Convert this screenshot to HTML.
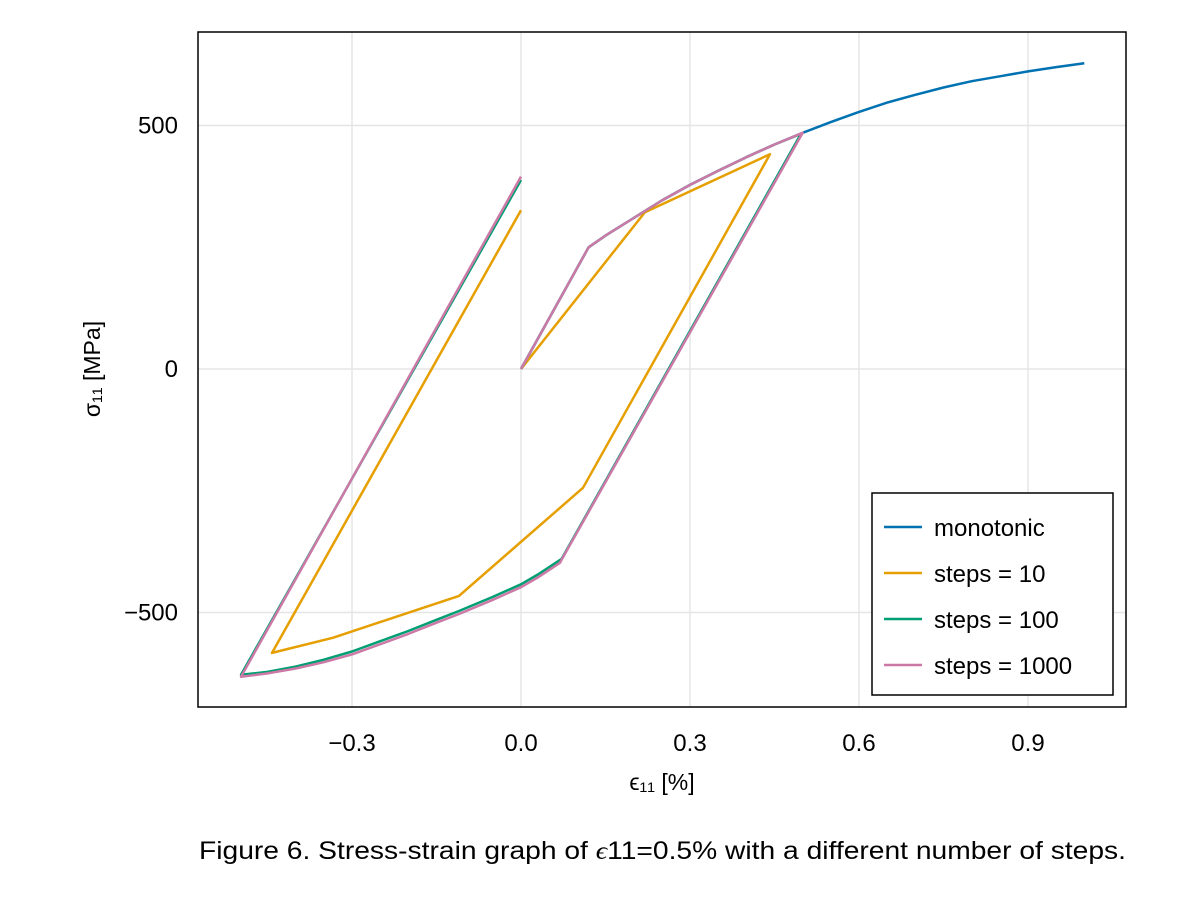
<!DOCTYPE html>
<html><head><meta charset="utf-8"><style>
body{margin:0;background:#fff;width:1200px;height:900px;overflow:hidden;font-family:"Liberation Sans","DejaVu Sans",sans-serif}
</style></head><body>
<svg width="1200" height="900" xmlns="http://www.w3.org/2000/svg">
<g id="grid"></g>
<g id="series"></g>
<rect x="198" y="32" width="928" height="675" fill="none" stroke="#000" stroke-width="1.5"/>
<g id="ticks" font-size="24" fill="#000"></g>
<text x="662" y="790" font-size="23" text-anchor="middle">ϵ₁₁ [%]</text>
<text transform="translate(100,369) rotate(-90)" font-size="23" text-anchor="middle">σ₁₁ [MPa]</text>
<g>
<rect x="872" y="493" width="241" height="202" fill="#fff" stroke="#000" stroke-width="1.5"/>
<g id="legend" font-size="24"></g>
</g>
<text x="199" y="859" font-size="25" textLength="927" lengthAdjust="spacingAndGlyphs">Figure 6. Stress-strain graph of <tspan font-family="Liberation Serif, serif" font-style="italic">ϵ</tspan>11=0.5% with a different number of steps.</text>
</svg>
<script>
const xTicks=[-0.3,0,0.3,0.6,0.9];
const xTickLabels=["−0.3","0.0","0.3","0.6","0.9"];
const yTicks=[-500,0,500];
const yTickLabels=["−500","0","500"];
const seriesNames=["monotonic","steps = 10","steps = 100","steps = 1000"];
const seriesColors=["#0072b2","#e69f00","#009e73","#cc79a7"];
const monoX=[0,0.12,0.15,0.2,0.25,0.3,0.35,0.4,0.45,0.5,0.55,0.6,0.65,0.7,0.75,0.8,0.85,0.9,0.95,1.0];
const monoY=[0,250,274,310,346,378,407,435,461,485,507,528,547,563,578,591,601,611,620,628];
const s10X=[0,0.22,0.442,0.11,-0.11,-0.334,-0.442,0];
const s10Y=[0,322,441,-244,-466,-552,-583,326];
const s100X=[0,0.12,0.15,0.2,0.25,0.3,0.35,0.4,0.45,0.497,0.072,0.03,0,-0.05,-0.11,-0.15,-0.2,-0.25,-0.3,-0.35,-0.4,-0.45,-0.497,0];
const s100Y=[0,250,274,310,346,378,407,435,461,483,-390,-422,-442,-468,-497,-515,-538,-559,-580,-597,-611,-622,-628,388];
const s1000X=[0,0.12,0.15,0.2,0.25,0.3,0.35,0.4,0.45,0.5,0.069,0.03,0,-0.05,-0.11,-0.15,-0.2,-0.25,-0.3,-0.35,-0.4,-0.45,-0.497,0];
const s1000Y=[0,250,274,310,346,378,407,435,461,485,-398,-428,-448,-474,-503,-521,-544,-565,-586,-602,-615,-625,-632,395];
const NS="http://www.w3.org/2000/svg";
const L=198,R=1126,T=32,B=707;
const sx=v=>521+v*563.33;
const sy=v=>369-v*0.487;
function mk(tag,attrs,parent){const e=document.createElementNS(NS,tag);for(const k in attrs)e.setAttribute(k,attrs[k]);parent.appendChild(e);return e;}
const grid=document.getElementById('grid'),ticks=document.getElementById('ticks');
xTicks.forEach((t,i)=>{
 const g=mk('line',{x1:sx(t),x2:sx(t),y1:T,y2:B,stroke:'#e5e5e5','stroke-width':1.5},grid);
 
 
 const tx=mk('text',{x:sx(t),y:751,'text-anchor':'middle'},ticks);tx.textContent=xTickLabels[i];
 
 
});
yTicks.forEach((t,i)=>{
 const g=mk('line',{x1:L,x2:R,y1:sy(t),y2:sy(t),stroke:'#e5e5e5','stroke-width':1.5},grid);
 
 
 const tx=mk('text',{x:178,y:sy(t)+8,'text-anchor':'end'},ticks);tx.textContent=yTickLabels[i];
 
 
});
const ser=document.getElementById('series');
const data=[[monoX,monoY],[s10X,s10Y],[s100X,s100Y],[s1000X,s1000Y]];
data.forEach((d,i)=>{
 const pts=d[0].map((x,j)=>sx(x).toFixed(1)+','+sy(d[1][j]).toFixed(1)).join(' ');
 const p=mk('polyline',{points:pts,fill:'none',stroke:seriesColors[i],'stroke-width':2.5,'stroke-linejoin':'round'},ser);
 
 
});
const lg=document.getElementById('legend');
seriesNames.forEach((n,i)=>{
 const y=527+i*46;
 const l=mk('line',{x1:884,x2:922,y1:y,y2:y,stroke:seriesColors[i],'stroke-width':2.5},lg);
 
 
 const t=mk('text',{x:934,y:y+9},lg);t.textContent=n;
 
 
});
</script>
</body></html>
